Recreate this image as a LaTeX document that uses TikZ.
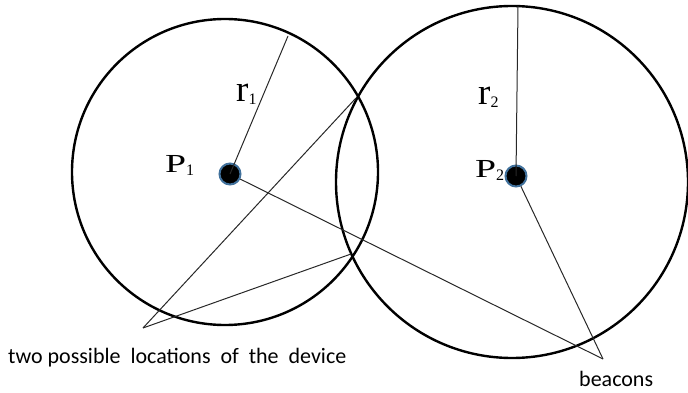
\documentclass[tikz,border=0pt]{standalone}
\usepackage{fontspec}
\setmainfont{Liberation Serif}
\newfontfamily\labelfont{Carlito}
\definecolor{dotblue}{RGB}{65,113,156}
\definecolor{thin}{RGB}{40,40,40}
\newcommand{\bigP}{\fontsize{26}{26}\selectfont\scalebox{1.45}[1]{P}}
\newcommand{\bigR}{\fontsize{37}{37}\selectfont r}
\newcommand{\subnum}[1]{\fontsize{16}{16}\selectfont\raisebox{-3pt}{#1}}
\begin{document}
\begin{tikzpicture}[x=1pt,y=-1pt,
  ring/.style={draw=black,line width=2.4pt},
  beacon/.style={circle,fill=black,draw=dotblue,line width=2pt,minimum size=21pt,inner sep=0pt},
  ray/.style={draw=thin,line width=1pt},
  sym/.style={inner sep=0pt,anchor=base west},
  caption/.style={font=\labelfont\fontsize{22}{26}\selectfont,inner sep=0pt,anchor=base west}]
\useasboundingbox (0,0) rectangle (688,393);
\draw[ring] (225,172) circle (153);
\draw[ring] (512,182) circle (176);
\node[beacon] (p1) at (230,174) {};
\node[beacon] (p2) at (516,176) {};
\coordinate (r1end) at (288,36);
\coordinate (r2end) at (518,6);
\coordinate (top) at (356,98);
\coordinate (bot) at (351,254);
\coordinate (locs) at (143,328);
\coordinate (bcn) at (603,359);
\draw[ray] (p1.center) -- (r1end);
\draw[ray] (p2.center) -- (r2end);
\draw[ray] (locs) -- (top);
\draw[ray] (locs) -- (bot);
\draw[ray] (p1) -- (bcn);
\draw[ray] (p2) -- (bcn);
\node[sym] (lr1) at (236,102) {\bigR\subnum{1}};
\node[sym] (lr2) at (478,105) {\bigR\subnum{2}};
\node[sym] (lp1) at (165,172) {\bigP\subnum{1}};
\node[sym] (lp2) at (475,177) {\bigP\subnum{2}};
\node[caption] (tl) at (8,363) {two possible\ \ locations\ \ of\ \ the\ \ device};
\node[caption] (tb) at (579,386) {beacons};
\end{tikzpicture}
\end{document}
